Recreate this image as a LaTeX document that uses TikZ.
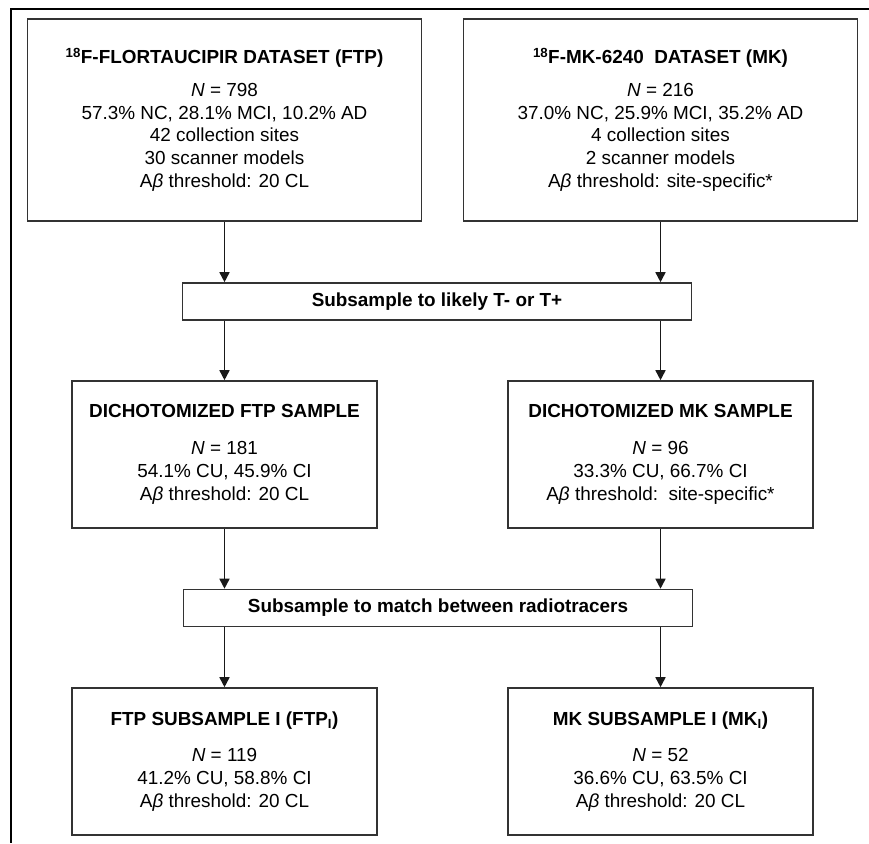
\documentclass[tikz,border=0pt]{standalone}
\usepackage{fontspec}
\setmainfont{Liberation Sans}
\usetikzlibrary{arrows.meta, positioning}
\newcommand{\Abeta}{A{\itshape β}}

\begin{document}
\begin{tikzpicture}[x=1pt, y=-1pt,
  every node/.style={inner sep=0pt, align=center},
  font=\fontsize{18.9}{22.8}\selectfont,
  databox/.style={draw=black!80, line width=1.6pt, minimum width=394pt, minimum height=202pt},
  samplebox/.style={draw=black!80, line width=1.6pt, minimum width=305pt, minimum height=147pt},
  filterbox/.style={draw=black!80, line width=1.6pt, minimum width=509pt, minimum height=37pt,
                    font=\fontsize{18.9}{22.8}\selectfont\bfseries},
  flow/.style={-{Triangle[length=10pt, width=10pt]}, line width=1.6pt, black!90}]
  \def\colL{224.5}  % left column
  \def\colR{660.5}  % right column
  \useasboundingbox (0,0) rectangle (869,843);
  % frame
  \draw[line width=1.8pt] (869,9) -- (11,9) -- (11,843);
  % datasets
  \node[databox] (ftpset) at (\colL,120)
       {\textbf{\textsuperscript{18}F-FLORTAUCIPIR DATASET (FTP)}\\[9.6pt]
        \textit{N} = 798\\ 57.3\% NC, 28.1\% MCI, 10.2\% AD\\ 42 collection sites\\
        30 scanner models\\ \Abeta{} threshold: 20 CL};
  \node[databox] (mkset) at (\colR,120)
       {\textbf{\textsuperscript{18}F-MK-6240\ \ DATASET (MK)}\\[9.6pt]
        \textit{N} = 216\\ 37.0\% NC, 25.9\% MCI, 35.2\% AD\\ 4 collection sites\\
        2 scanner models\\ \Abeta{} threshold: site-specific*};
  \node[filterbox] (likely) at (437,301.5) {Subsample to likely T- or T+};
  % dichotomized
  \node[samplebox] (ftpdich) at (\colL,454.5)
       {\textbf{DICHOTOMIZED FTP SAMPLE}\\[14pt]
        \textit{N} = 181\\ 54.1\% CU, 45.9\% CI\\ \Abeta{} threshold: 20 CL};
  \node[samplebox] (mkdich) at (\colR,454.5)
       {\textbf{DICHOTOMIZED MK SAMPLE}\\[14pt]
        \textit{N} = 96\\ 33.3\% CU, 66.7\% CI\\ \Abeta{} threshold:\ \ site-specific*};
  \node[filterbox] (match) at (438,608) {Subsample to match between radiotracers};
  % subsamples
  \node[samplebox] (ftpsub) at (\colL,761.5)
       {\textbf{FTP SUBSAMPLE I (FTP\textsubscript{I})}\\[13.5pt]
        \textit{N} = 119\\ 41.2\% CU, 58.8\% CI\\ \Abeta{} threshold: 20 CL};
  \node[samplebox] (mksub) at (\colR,761.5)
       {\textbf{MK SUBSAMPLE I (MK\textsubscript{I})}\\[13.5pt]
        \textit{N} = 52\\ 36.6\% CU, 63.5\% CI\\ \Abeta{} threshold: 20 CL};
  % arrows
  \foreach \src/\dst in {ftpset/likely, mkset/likely, ftpdich/match, mkdich/match}
    \draw[flow] (\src.south) -- (\src.south |- \dst.north);
  \foreach \src/\dst in {likely/ftpdich, likely/mkdich, match/ftpsub, match/mksub}
    \draw[flow] (\dst.north |- \src.south) -- (\dst.north);
\end{tikzpicture}
\end{document}
